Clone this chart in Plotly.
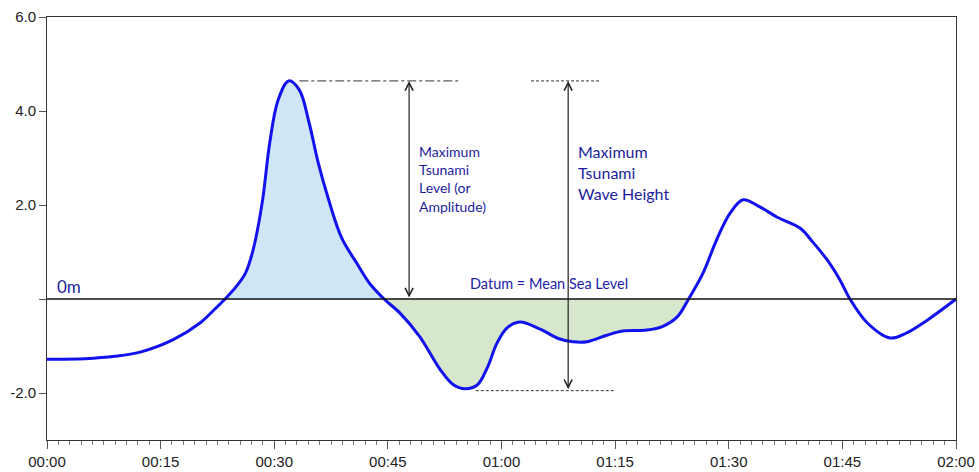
import plotly.graph_objects as go

# ---- data (time in minutes, level in metres) ----
minutes = [0, 5, 9, 12.3, 16.6, 20.2, 22.0, 23.5, 25.0, 26.2, 27.2, 28.4, 29.4, 30.5, 31.9,
           33.3, 34.6, 35.8, 37.2, 38.9, 40.9, 42.6, 44.5, 46.6, 49.2, 51.9, 53.6,
           55.2, 56.8, 58.1, 59.4, 60.7, 62.4, 65.1, 67.5, 69.4, 71.3, 73.9, 76.0, 79.2,
           81.3, 83.2, 84.7, 86.6, 88.4, 90.2, 91.9, 94.1, 96.4, 99.4, 101.1, 103.0,
           104.7, 106.0, 108.3, 111.3, 113.5, 116.2, 120.0]
level = [-1.28, -1.27, -1.22, -1.13, -0.87, -0.51, -0.24, 0.0, 0.27, 0.55, 1.04, 2.04, 3.32,
         4.23, 4.64, 4.45, 3.75, 2.90, 2.10, 1.30, 0.76, 0.33, 0.0, -0.30, -0.80,
         -1.50, -1.82, -1.91, -1.83, -1.47, -0.94, -0.62, -0.49, -0.64, -0.84, -0.91, -0.91,
         -0.77, -0.68, -0.66, -0.58, -0.38, 0.0, 0.55, 1.26, 1.83, 2.11, 1.96, 1.74,
         1.51, 1.21, 0.83, 0.40, 0.0, -0.51, -0.83, -0.72, -0.45, 0.0]

tick_minutes = [0, 15, 30, 45, 60, 75, 90, 105, 120]
tick_labels = ["00:00", "00:15", "00:30", "00:45", "01:00", "01:15", "01:30", "01:45", "02:00"]
y_ticks = [6, 4, 2, 0, -2]
y_tick_labels = ["6.0", "4.0", "2.0", "", "-2.0"]

# reference levels/times for the annotation marks
peak_level = 4.64
trough_level = -1.95
crest_window = (23.5, 44.5)      # first positive wave filled
trough_window = (44.5, 84.7)     # first negative wave filled
amp_arrow_t = 47.8
height_arrow_t = 68.8
peak_line_t = (33.3, 54.5)
peak_line2_t = (63.9, 73.1)
trough_line_t = (56.6, 75.0)

BLUE = "#1212ee"
TEXT = "#1d1d9c"

fig = go.Figure()

def subset(lo, hi):
    xs, ys = [], []
    for t, v in zip(minutes, level):
        if lo <= t <= hi:
            xs.append(t)
            ys.append(v)
    return xs, ys

cx, cy = subset(*crest_window)
fig.add_trace(go.Scatter(x=cx, y=cy, mode="lines", line=dict(width=0, shape="spline"),
                         fill="tozeroy", fillcolor="#cfe6f7", hoverinfo="skip", showlegend=False))
tx, ty = subset(*trough_window)
fig.add_trace(go.Scatter(x=tx, y=ty, mode="lines", line=dict(width=0, shape="spline"),
                         fill="tozeroy", fillcolor="#d6e7cc", hoverinfo="skip", showlegend=False))

fig.add_trace(go.Scatter(x=minutes, y=level, mode="lines",
                         line=dict(color=BLUE, width=3, shape="spline", smoothing=1.0),
                         showlegend=False))

# datum line
fig.add_shape(type="line", xref="x", yref="y", x0=0, x1=120, y0=0, y1=0,
              line=dict(color="#111111", width=1.5))
# dashed reference lines
fig.add_shape(type="line", x0=peak_line_t[0], x1=peak_line_t[1], y0=peak_level, y1=peak_level,
              line=dict(color="#333333", width=1, dash="dashdot"))
fig.add_shape(type="line", x0=peak_line2_t[0], x1=peak_line2_t[1], y0=peak_level, y1=peak_level,
              line=dict(color="#333333", width=1, dash="3px,2px"))
fig.add_shape(type="line", x0=trough_line_t[0], x1=trough_line_t[1], y0=trough_level, y1=trough_level,
              line=dict(color="#333333", width=1, dash="3px,2px"))

# double-headed arrows
for t, y0, y1 in [(amp_arrow_t, 0, peak_level), (height_arrow_t, trough_level, peak_level)]:
    fig.add_annotation(x=t, y=y1, ax=t, ay=y0, xref="x", yref="y", axref="x", ayref="y",
                       text="", showarrow=True, arrowhead=5, startarrowhead=5,
                       arrowside="end+start", arrowsize=1.3, startarrowsize=1.3,
                       arrowwidth=1.2, arrowcolor="#222222", standoff=0, startstandoff=0)

fig.add_annotation(x=48.8, y=3.37, xref="x", yref="y", xanchor="left", yanchor="top",
                   text="Maximum<br>Tsunami<br>Level (or<br>Amplitude)", showarrow=False,
                   align="left", font=dict(family="Lato", size=14, color=TEXT))
fig.add_annotation(x=69.9, y=3.39, xref="x", yref="y", xanchor="left", yanchor="top",
                   text="Maximum<br>Tsunami<br>Wave Height", showarrow=False,
                   align="left", font=dict(family="Lato", size=16, color=TEXT))
fig.add_annotation(x=66.3, y=0.33, xref="x", yref="y", xanchor="center", yanchor="middle",
                   text="Datum = Mean Sea Level", showarrow=False,
                   font=dict(family="Lato", size=14.5, color="#2222aa"))
fig.add_annotation(x=1.1, y=0.26, xref="x", yref="y", xanchor="left", yanchor="middle",
                   text="0m", showarrow=False,
                   font=dict(family="Lato", size=17, color=TEXT))

fig.update_layout(
    width=979, height=472,
    margin=dict(l=47, r=23, t=17, b=32, autoexpand=False),
    paper_bgcolor="white", plot_bgcolor="white",
    font=dict(family="Liberation Sans", size=15, color="#222222"),
)
fig.update_xaxes(range=[0, 120], tickvals=tick_minutes, ticktext=tick_labels,
                 automargin=False,
                 showgrid=False, zeroline=False, showline=True, linecolor="#333333",
                 linewidth=1, mirror=True, ticks="outside", ticklen=8, tickcolor="#555555",
                 minor=dict(dtick=1.5, ticks="outside", ticklen=4, tickcolor="#777777"),
                 tickfont=dict(family="Liberation Sans", size=15, color="#222222"))
fig.update_yaxes(range=[-3, 6], tickvals=y_ticks, ticktext=y_tick_labels,
                 automargin=False,
                 showgrid=False, zeroline=False, showline=True, linecolor="#333333",
                 linewidth=1, mirror=True, ticks="outside", ticklen=7, tickcolor="#555555",
                 tickfont=dict(family="Liberation Sans", size=15, color="#222222"))

fig.write_html("out.html", config={"displayModeBar": False},
               post_script="document.body.style.margin='0';")
